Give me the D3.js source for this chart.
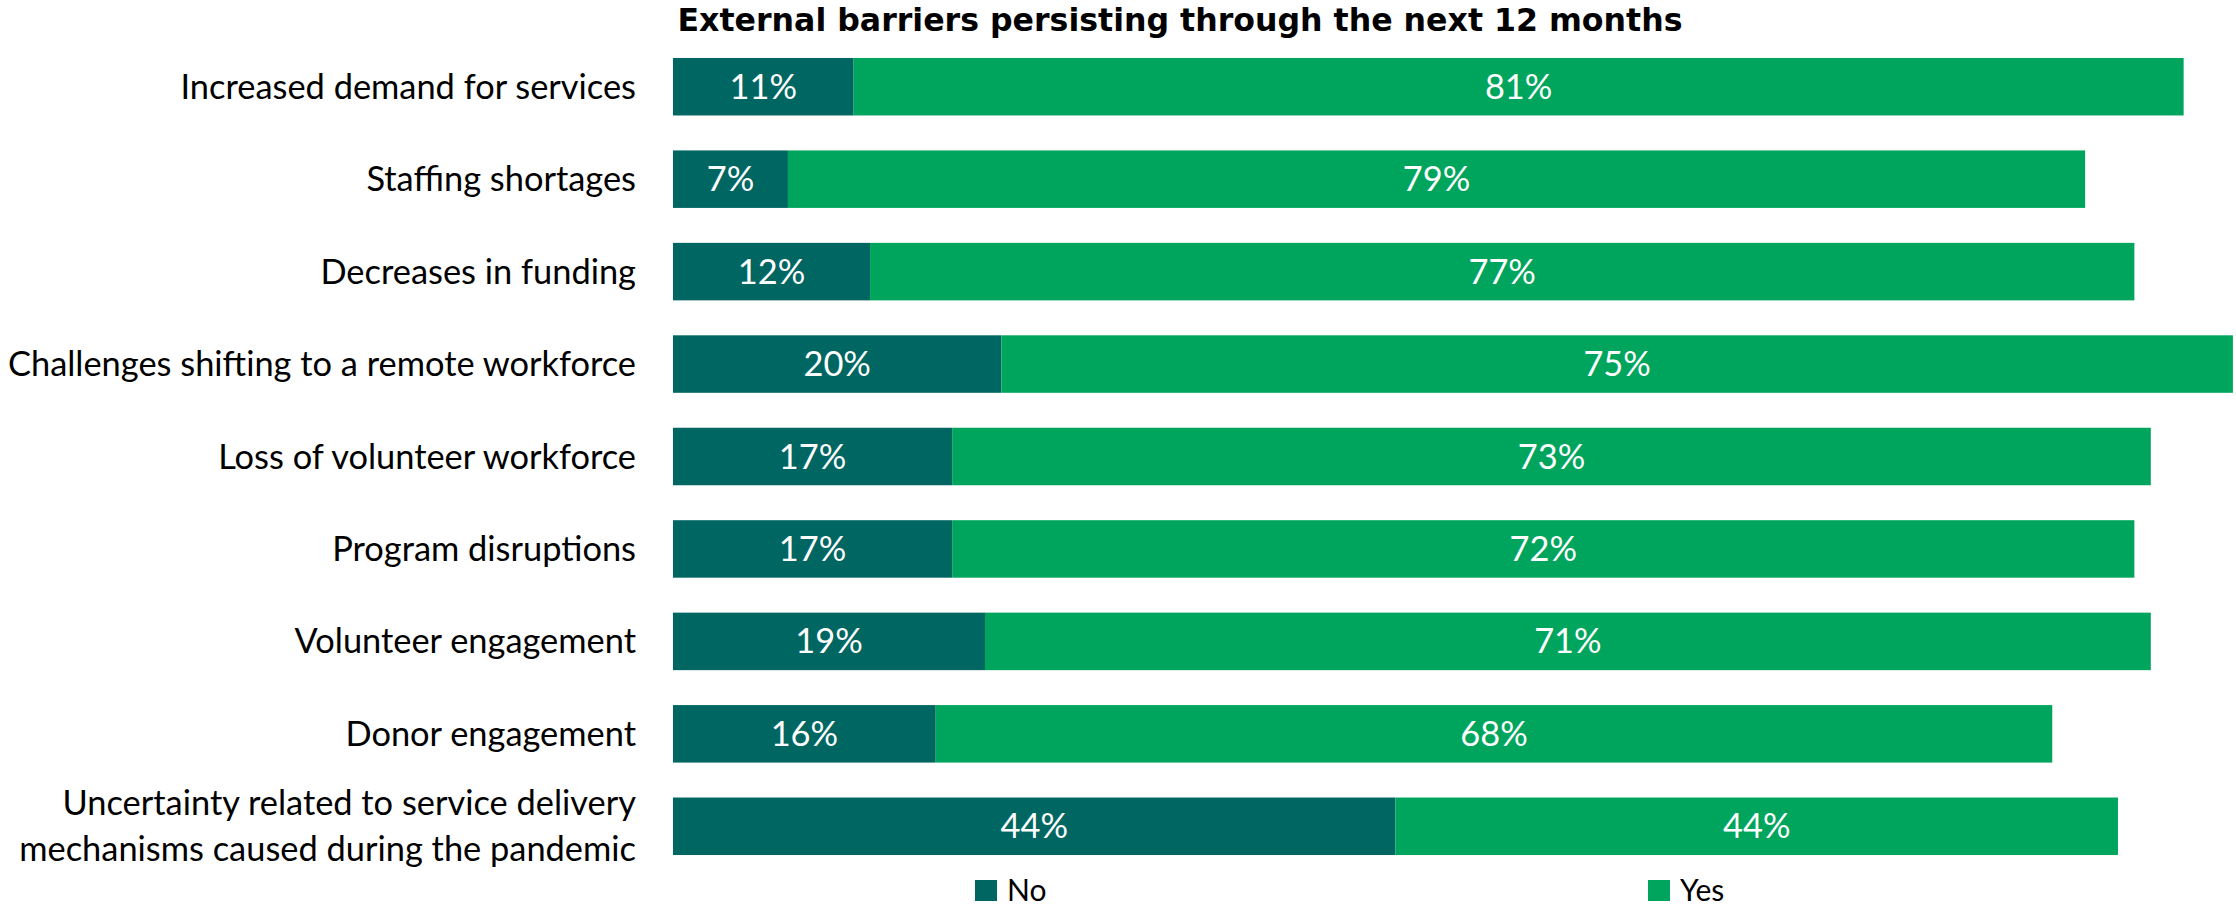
<!DOCTYPE html>
<html>
<head>
<meta charset="utf-8">
<script src="https://cdn.jsdelivr.net/npm/d3@7"></script>
<style>
  html, body { margin: 0; padding: 0; background: #ffffff; }
  svg { display: block; }
</style>
</head>
<body>
<svg id="chart" width="2236" height="907"></svg>
<script>
// Survey results: share of respondents expecting each barrier to persist
const categories = [
  "Increased demand for services",
  "Staffing shortages",
  "Decreases in funding",
  "Challenges shifting to a remote workforce",
  "Loss of volunteer workforce",
  "Program disruptions",
  "Volunteer engagement",
  "Donor engagement",
  "Uncertainty related to service delivery\nmechanisms caused during the pandemic"
];
const noValues  = [11, 7, 12, 20, 17, 17, 19, 16, 44];
const yesValues = [81, 79, 77, 75, 73, 72, 71, 68, 44];
const seriesKeys = ["No", "Yes"];
const seriesColors = ["#006662", "#00A55D"];
const titleText = "External barriers persisting through the next 12 months";

const rows = categories.map((c, i) => ({ category: c, No: noValues[i], Yes: yesValues[i] }));

const svg = d3.select("#chart");

const x = d3.scaleLinear().domain([0, 100]).range([673, 673 + 1642]);
const y = d3.scaleBand()
  .domain(categories)
  .range([40.5, 872.5])
  .paddingInner(0.378)
  .paddingOuter(0.189);
const color = d3.scaleOrdinal().domain(seriesKeys).range(seriesColors);

const stacked = d3.stack().keys(seriesKeys)(rows);

const labelFont = "Lato, 'Open Sans', sans-serif";

// Title
svg.append("text")
  .attr("x", 1180)
  .attr("y", 31)
  .attr("text-anchor", "middle")
  .style("font-family", "'DejaVu Sans', Inter, sans-serif")
  .style("font-weight", 700)
  .style("font-size", "31.6px")
  .style("fill", "#000")
  .text(titleText);

// Stacked bars
const layers = svg.append("g").selectAll("g")
  .data(stacked)
  .join("g")
  .attr("fill", d => color(d.key));

layers.selectAll("rect")
  .data(d => d.map(v => ({ key: d.key, v })))
  .join("rect")
  .attr("x", d => x(d.v[0]))
  .attr("y", d => y(d.v.data.category))
  .attr("width", d => x(d.v[1]) - x(d.v[0]))
  .attr("height", y.bandwidth());

// Segment value labels
layers.selectAll("text")
  .data(d => d.map(v => ({ key: d.key, v })))
  .join("text")
  .attr("x", d => (x(d.v[0]) + x(d.v[1])) / 2)
  .attr("y", d => y(d.v.data.category) + y.bandwidth() / 2)
  .attr("dy", "0.35em")
  .attr("text-anchor", "middle")
  .style("font-family", labelFont)
  .style("font-size", "34.4px")
  .style("fill", "#ffffff")
  .text(d => (d.v[1] - d.v[0]) + "%");

// Category axis (labels only, no line or ticks)
const yAxis = svg.append("g")
  .attr("transform", `translate(${x(0)},0)`)
  .call(d3.axisLeft(y).tickSize(0).tickPadding(37).tickFormat(() => ""));
yAxis.select(".domain").remove();

yAxis.selectAll(".tick").each(function(d) {
  const lines = d.split("\n");
  const t = d3.select(this).append("text")
    .attr("x", -37)
    .attr("text-anchor", "end")
    .style("font-family", labelFont)
    .style("font-size", "34.4px")
    .style("fill", "#000");
  const lh = 46;
  lines.forEach((ln, i) => {
    t.append("tspan")
      .attr("x", -37)
      .attr("y", (i - (lines.length - 1) / 2) * lh)
      .attr("dy", "0.35em")
      .text(ln);
  });
});

// Legend
const legendX = d3.scaleOrdinal().domain(seriesKeys).range([975, 1648]);
const legend = svg.append("g").selectAll("g")
  .data(seriesKeys)
  .join("g")
  .attr("transform", d => `translate(${legendX(d)},880)`);
legend.append("rect")
  .attr("width", 22)
  .attr("height", 21)
  .attr("fill", d => color(d));
legend.append("text")
  .attr("x", 32)
  .attr("y", 21)
  .style("font-family", labelFont)
  .style("font-size", "30px")
  .style("fill", "#000")
  .text(d => d);
</script>
</body>
</html>
